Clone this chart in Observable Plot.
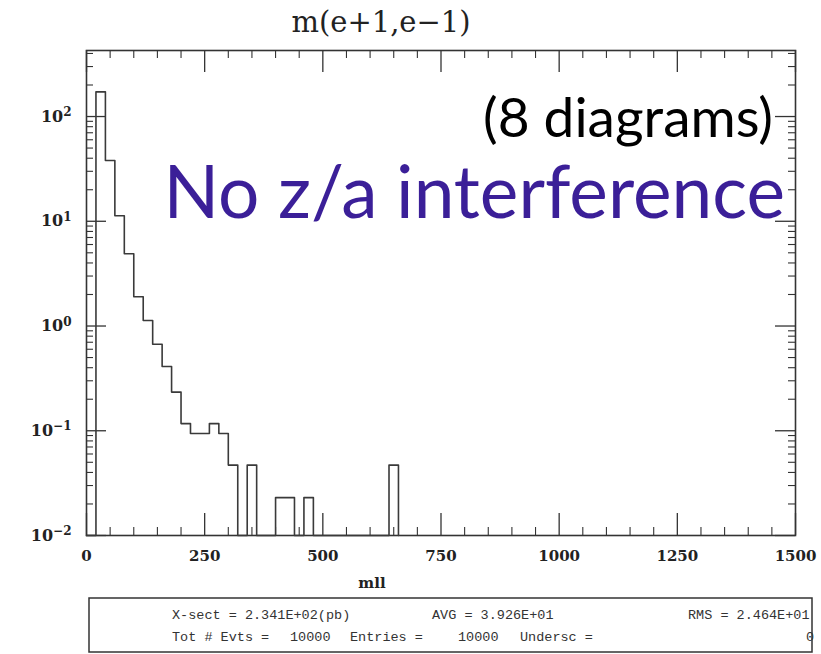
<!DOCTYPE html>
<html><head><meta charset="utf-8">
<script src="https://cdn.jsdelivr.net/npm/d3@7"></script>
<script src="https://cdn.jsdelivr.net/npm/@observablehq/plot@0.6"></script>
<style>body{margin:0;background:#fff}#chart{width:821px;height:654px}</style>
</head><body><div id="chart"></div>
<script>
// ---- data (bin lower edges, bin width 20, values in pb/bin) ----
const binWidth = 20;
const binLow = [0,20,40,60,80,100,120,140,160,180,200,220,240,260,280,300,320,340,360,380,400,420,440,460,480,500,520,540,560,580,600,620,640];
const binValue = [0,172,38,11.3,4.9,1.9,1.13,0.67,0.41,0.234,0.117,0.094,0.094,0.117,0.094,0.047,0,0.047,0,0,0.023,0.023,0,0.023,0,0,0,0,0,0,0,0,0.047];
const xTicks = [0,250,500,750,1000,1250,1500];
const yTicks = [0.01,0.1,1,10,100];
const titleText = "m(e+1,e\u22121)";
const xLabel = "mll";
const noteSmall = "(8 diagrams)";
const noteBig = "No z/a interference";
const statsLine1 = ["X-sect = 2.341E+02(pb)", "AVG = 3.926E+01", "RMS = 2.464E+01"];
const statsLine2 = ["Tot # Evts =", "10000", "Entries =", "10000", "Undersc =", "0"];

const yMin = 0.01, yMax = 427;
const W = 821, H = 654, mL = 86, mR = 26, mT = 50, mB = 119;
const frameW = W - mL - mR, frameH = H - mT - mB;

// step outline table built from the bins
const step = [{x: 0, y: yMin}];
binLow.forEach((lo, i) => {
  const v = binValue[i] > 0 ? binValue[i] : yMin;
  step.push({x: lo, y: v}, {x: lo + binWidth, y: v});
});
step.push({x: binLow[binLow.length - 1] + binWidth, y: yMin});

const xMinor = d3.range(0, 1501, 50).filter(d => !xTicks.includes(d));
const yMinor = [];
for (let k = -2; k <= 2; k++) for (let m = 2; m <= 9; m++) { const v = m * Math.pow(10, k); if (v < yMax) yMinor.push(v); }

const expOf = d => String(Math.round(Math.log10(d))).replace("-", "\u2212");

const ink = "#333";
const plot = Plot.plot({
  width: W, height: H, marginLeft: mL, marginRight: mR, marginTop: mT, marginBottom: mB,
  x: {domain: [0, 1500]},
  y: {type: "log", domain: [yMin, yMax]},
  marks: [
    Plot.frame({stroke: ink, strokeWidth: 1.6}),
    Plot.ruleX(xTicks, {x: d => d, insetTop: frameH - 22, stroke: ink, strokeWidth: 1.3}),
    Plot.ruleX(xTicks, {x: d => d, insetBottom: frameH - 22, stroke: ink, strokeWidth: 1.3}),
    Plot.ruleX(xMinor, {x: d => d, insetTop: frameH - 8, stroke: ink, strokeWidth: 1.1}),
    Plot.ruleX(xMinor, {x: d => d, insetBottom: frameH - 8, stroke: ink, strokeWidth: 1.1}),
    Plot.ruleY(yTicks, {y: d => d, insetRight: frameW - 20, stroke: ink, strokeWidth: 1.3}),
    Plot.ruleY(yTicks, {y: d => d, insetLeft: frameW - 20, stroke: ink, strokeWidth: 1.3}),
    Plot.ruleY(yMinor, {y: d => d, insetRight: frameW - 7, stroke: ink, strokeWidth: 1.1}),
    Plot.ruleY(yMinor, {y: d => d, insetLeft: frameW - 7, stroke: ink, strokeWidth: 1.1}),
    Plot.axisX(xTicks, {tickSize: 0, tickPadding: 15, label: null, tickFormat: d => String(d),
      fontSize: 15, fontFamily: "DejaVu Serif", fontWeight: "bold", fill: "#222"}),
    Plot.axisY(yTicks, {tickSize: 0, tickPadding: 15, label: null, tickFormat: d => "10^" + expOf(d),
      fontSize: 16, fontFamily: "DejaVu Serif", fontWeight: "bold", fill: "#222", className: "ylab"}),
    Plot.line(step, {x: "x", y: "y", stroke: "#3a3a3a", strokeWidth: 1.6})
  ]
});
document.getElementById("chart").appendChild(plot);

const svg = d3.select(plot);
// turn "10^n" tick labels into a base with a raised exponent
svg.selectAll(".ylab text").each(function () {
  const t = d3.select(this);
  const parts = t.text().split("^");
  if (parts.length !== 2) return;
  t.text(null);
  t.append("tspan").text(parts[0]);
  t.append("tspan").attr("dy", "-0.45em").attr("font-size", 12).text(parts[1]);
});

const addText = (x, y, t, o) => {
  const el = svg.append("text").attr("x", x).attr("y", y).attr("text-anchor", o.anchor || "start")
    .attr("font-family", o.family).attr("font-size", o.size).attr("fill", o.fill || "#222").text(t);
  if (o.weight) el.attr("font-weight", o.weight);
  return el;
};
addText(381, 32, titleText, {anchor: "middle", family: "DejaVu Serif", size: 29});
addText(372, 588, xLabel, {anchor: "middle", family: "DejaVu Serif", size: 15, weight: "bold"});
// stats box
svg.append("rect").attr("x", 89).attr("y", 598).attr("width", 723).attr("height", 54)
  .attr("fill", "none").attr("stroke", ink).attr("stroke-width", 1.5);
const sx1 = [172, 432, 688], sx2 = [172, 290, 350, 458, 520, 806];
statsLine1.forEach((t, i) => addText(sx1[i], 619, t, {family: "Liberation Mono", size: 13.5, fill: "#333"}));
statsLine2.forEach((t, i) => addText(sx2[i], 641, t, {family: "Liberation Mono", size: 13.5, fill: "#333"}));
// overlay notes
addText(773, 137, noteSmall, {anchor: "end", family: "Lato", size: 55, fill: "#000"});
addText(785, 218, noteBig, {anchor: "end", family: "Lato", size: 73, fill: "#3b1f98"});
</script>
</body></html>
